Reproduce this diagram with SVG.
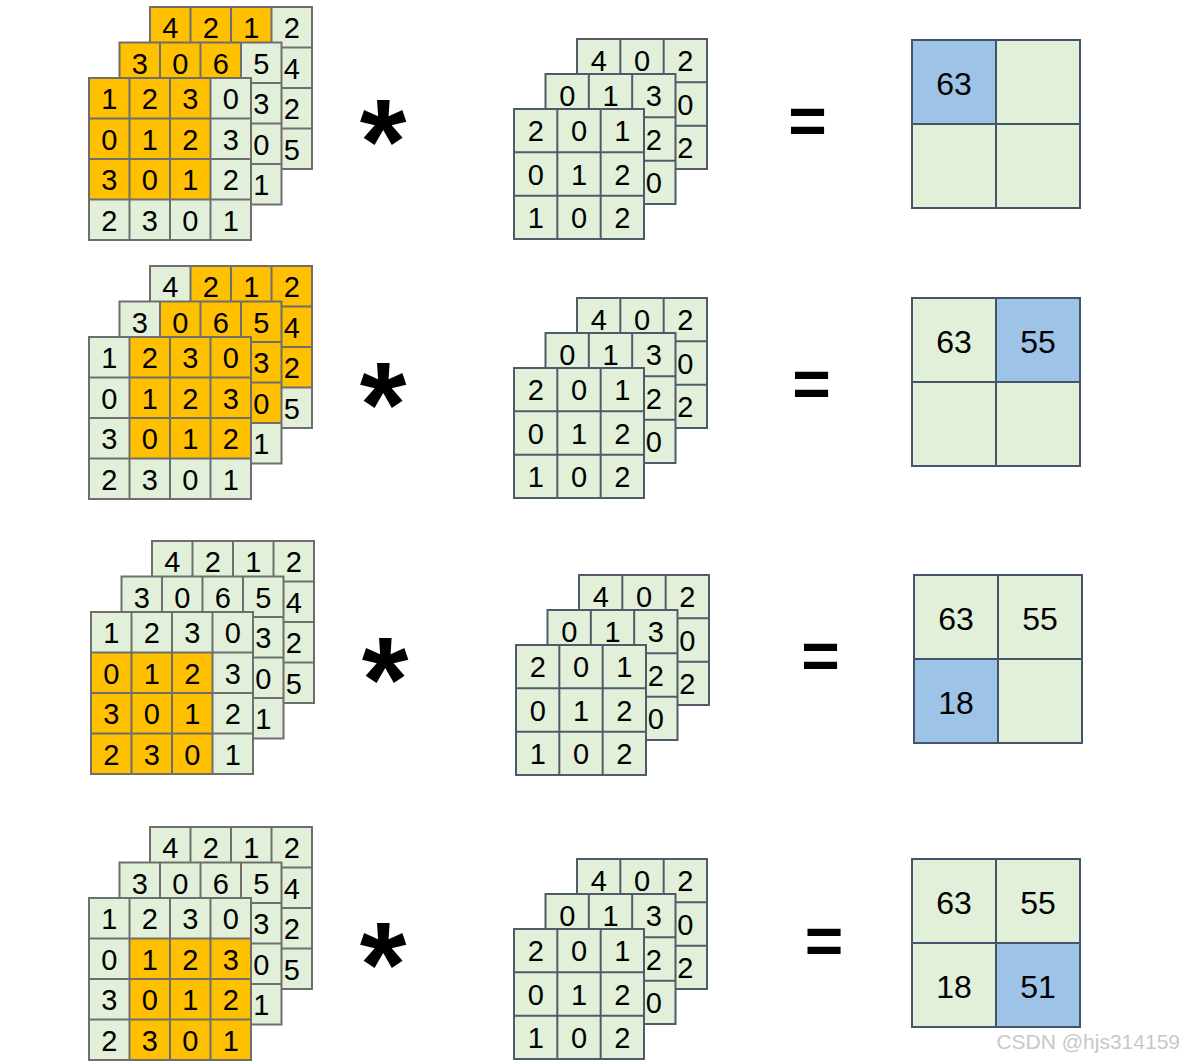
<svg xmlns="http://www.w3.org/2000/svg" xmlns:xlink="http://www.w3.org/1999/xlink" width="1184" height="1062" viewBox="0 0 1184 1062">
<style>
.g{fill:#E2F0D9}
.o{fill:#FFC000}
.b{fill:#9DC3E6}
.gi{fill:none;stroke:#6E6E6E;stroke-width:2}
.gk{fill:none;stroke:#4F5B6B;stroke-width:2}
.go{fill:none;stroke:#44546A;stroke-width:2}
text{font-family:"Liberation Sans",Arial,sans-serif;fill:#000;text-anchor:middle}
.n{font-size:29px}
.on{font-size:32px}
.op{font-weight:bold}
.wm{font-size:21px;fill:#C8C8C8;text-anchor:end}
</style>
<defs>
<path id="grid4" d="M0 0H162V162H0Z M40.5 0V162 M81 0V162 M121.5 0V162 M0 40.5H162 M0 81H162 M0 121.5H162"/>
<path id="grid3" d="M0 0H130V130H0Z M43.33 0V130 M86.67 0V130 M0 43.33H130 M0 86.67H130"/>
<path id="grid2" d="M0 0H168V168H0Z M84 0V168 M0 84H168"/>
</defs>

<!-- ROW 1 -->
<g id="input1">
<g transform="translate(150,7)"><rect class="g" width="162" height="162"/><rect class="o" width="121.5" height="121.5"/><use href="#grid4" class="gi"/>
<text class="n" x="20.25" y="31">4</text><text class="n" x="60.75" y="31">2</text><text class="n" x="101.25" y="31">1</text><text class="n" x="141.75" y="31">2</text><text class="n" x="141.75" y="71.5">4</text><text class="n" x="141.75" y="112">2</text><text class="n" x="141.75" y="152.5">5</text></g>
<g transform="translate(119.5,42.5)"><rect class="g" width="162" height="162"/><rect class="o" width="121.5" height="121.5"/><use href="#grid4" class="gi"/>
<text class="n" x="20.25" y="31">3</text><text class="n" x="60.75" y="31">0</text><text class="n" x="101.25" y="31">6</text><text class="n" x="141.75" y="31">5</text><text class="n" x="141.75" y="71.5">3</text><text class="n" x="141.75" y="112">0</text><text class="n" x="141.75" y="152.5">1</text></g>
<g transform="translate(89,78)"><rect class="g" width="162" height="162"/><rect class="o" width="121.5" height="121.5"/><use href="#grid4" class="gi"/>
<text class="n" x="20.25" y="31">1</text><text class="n" x="60.75" y="31">2</text><text class="n" x="101.25" y="31">3</text><text class="n" x="141.75" y="31">0</text>
<text class="n" x="20.25" y="71.5">0</text><text class="n" x="60.75" y="71.5">1</text><text class="n" x="101.25" y="71.5">2</text><text class="n" x="141.75" y="71.5">3</text>
<text class="n" x="20.25" y="112">3</text><text class="n" x="60.75" y="112">0</text><text class="n" x="101.25" y="112">1</text><text class="n" x="141.75" y="112">2</text>
<text class="n" x="20.25" y="152.5">2</text><text class="n" x="60.75" y="152.5">3</text><text class="n" x="101.25" y="152.5">0</text><text class="n" x="141.75" y="152.5">1</text></g>
</g>
<g id="kernel1">
<g transform="translate(577,39)"><rect class="g" width="130" height="130"/><use href="#grid3" class="gk"/>
<text class="n" x="21.7" y="32">4</text><text class="n" x="65" y="32">0</text><text class="n" x="108.3" y="32">2</text><text class="n" x="108.3" y="75.5">0</text><text class="n" x="108.3" y="119">2</text></g>
<g transform="translate(545.5,74)"><rect class="g" width="130" height="130"/><use href="#grid3" class="gk"/>
<text class="n" x="21.7" y="32">0</text><text class="n" x="65" y="32">1</text><text class="n" x="108.3" y="32">3</text><text class="n" x="108.3" y="75.5">2</text><text class="n" x="108.3" y="119">0</text></g>
<g transform="translate(514,109)"><rect class="g" width="130" height="130"/><use href="#grid3" class="gk"/>
<text class="n" x="21.7" y="32">2</text><text class="n" x="65" y="32">0</text><text class="n" x="108.3" y="32">1</text>
<text class="n" x="21.7" y="75.5">0</text><text class="n" x="65" y="75.5">1</text><text class="n" x="108.3" y="75.5">2</text>
<text class="n" x="21.7" y="119">1</text><text class="n" x="65" y="119">0</text><text class="n" x="108.3" y="119">2</text></g>
</g>
<g id="output1" transform="translate(912,40)"><rect class="g" width="168" height="168"/><rect class="b" width="84" height="84"/><use href="#grid2" class="go"/>
<text class="on" x="42" y="55">63</text></g>
<text class="op" x="383" y="183" font-size="120">*</text>
<text class="op" x="807.5" y="143.6" font-size="66">=</text>

<!-- ROW 2 -->
<g id="input2">
<g transform="translate(150,266)"><rect class="g" width="162" height="162"/><rect class="o" x="40.5" width="121.5" height="121.5"/><use href="#grid4" class="gi"/>
<text class="n" x="20.25" y="31">4</text><text class="n" x="60.75" y="31">2</text><text class="n" x="101.25" y="31">1</text><text class="n" x="141.75" y="31">2</text><text class="n" x="141.75" y="71.5">4</text><text class="n" x="141.75" y="112">2</text><text class="n" x="141.75" y="152.5">5</text></g>
<g transform="translate(119.5,301.5)"><rect class="g" width="162" height="162"/><rect class="o" x="40.5" width="121.5" height="121.5"/><use href="#grid4" class="gi"/>
<text class="n" x="20.25" y="31">3</text><text class="n" x="60.75" y="31">0</text><text class="n" x="101.25" y="31">6</text><text class="n" x="141.75" y="31">5</text><text class="n" x="141.75" y="71.5">3</text><text class="n" x="141.75" y="112">0</text><text class="n" x="141.75" y="152.5">1</text></g>
<g transform="translate(89,337)"><rect class="g" width="162" height="162"/><rect class="o" x="40.5" width="121.5" height="121.5"/><use href="#grid4" class="gi"/>
<text class="n" x="20.25" y="31">1</text><text class="n" x="60.75" y="31">2</text><text class="n" x="101.25" y="31">3</text><text class="n" x="141.75" y="31">0</text>
<text class="n" x="20.25" y="71.5">0</text><text class="n" x="60.75" y="71.5">1</text><text class="n" x="101.25" y="71.5">2</text><text class="n" x="141.75" y="71.5">3</text>
<text class="n" x="20.25" y="112">3</text><text class="n" x="60.75" y="112">0</text><text class="n" x="101.25" y="112">1</text><text class="n" x="141.75" y="112">2</text>
<text class="n" x="20.25" y="152.5">2</text><text class="n" x="60.75" y="152.5">3</text><text class="n" x="101.25" y="152.5">0</text><text class="n" x="141.75" y="152.5">1</text></g>
</g>
<g id="kernel2">
<g transform="translate(577,298)"><rect class="g" width="130" height="130"/><use href="#grid3" class="gk"/>
<text class="n" x="21.7" y="32">4</text><text class="n" x="65" y="32">0</text><text class="n" x="108.3" y="32">2</text><text class="n" x="108.3" y="75.5">0</text><text class="n" x="108.3" y="119">2</text></g>
<g transform="translate(545.5,333)"><rect class="g" width="130" height="130"/><use href="#grid3" class="gk"/>
<text class="n" x="21.7" y="32">0</text><text class="n" x="65" y="32">1</text><text class="n" x="108.3" y="32">3</text><text class="n" x="108.3" y="75.5">2</text><text class="n" x="108.3" y="119">0</text></g>
<g transform="translate(514,368)"><rect class="g" width="130" height="130"/><use href="#grid3" class="gk"/>
<text class="n" x="21.7" y="32">2</text><text class="n" x="65" y="32">0</text><text class="n" x="108.3" y="32">1</text>
<text class="n" x="21.7" y="75.5">0</text><text class="n" x="65" y="75.5">1</text><text class="n" x="108.3" y="75.5">2</text>
<text class="n" x="21.7" y="119">1</text><text class="n" x="65" y="119">0</text><text class="n" x="108.3" y="119">2</text></g>
</g>
<g id="output2" transform="translate(912,298)"><rect class="g" width="168" height="168"/><rect class="b" x="84" width="84" height="84"/><use href="#grid2" class="go"/>
<text class="on" x="42" y="55">63</text><text class="on" x="126" y="55">55</text></g>
<text class="op" x="383" y="446" font-size="120">*</text>
<text class="op" x="811.5" y="407" font-size="66">=</text>

<!-- ROW 3 -->
<g id="input3">
<g transform="translate(152,541)"><rect class="g" width="162" height="162"/><use href="#grid4" class="gi"/>
<text class="n" x="20.25" y="31">4</text><text class="n" x="60.75" y="31">2</text><text class="n" x="101.25" y="31">1</text><text class="n" x="141.75" y="31">2</text><text class="n" x="141.75" y="71.5">4</text><text class="n" x="141.75" y="112">2</text><text class="n" x="141.75" y="152.5">5</text></g>
<g transform="translate(121.5,576.5)"><rect class="g" width="162" height="162"/><use href="#grid4" class="gi"/>
<text class="n" x="20.25" y="31">3</text><text class="n" x="60.75" y="31">0</text><text class="n" x="101.25" y="31">6</text><text class="n" x="141.75" y="31">5</text><text class="n" x="141.75" y="71.5">3</text><text class="n" x="141.75" y="112">0</text><text class="n" x="141.75" y="152.5">1</text></g>
<g transform="translate(91,612)"><rect class="g" width="162" height="162"/><rect class="o" y="40.5" width="121.5" height="121.5"/><use href="#grid4" class="gi"/>
<text class="n" x="20.25" y="31">1</text><text class="n" x="60.75" y="31">2</text><text class="n" x="101.25" y="31">3</text><text class="n" x="141.75" y="31">0</text>
<text class="n" x="20.25" y="71.5">0</text><text class="n" x="60.75" y="71.5">1</text><text class="n" x="101.25" y="71.5">2</text><text class="n" x="141.75" y="71.5">3</text>
<text class="n" x="20.25" y="112">3</text><text class="n" x="60.75" y="112">0</text><text class="n" x="101.25" y="112">1</text><text class="n" x="141.75" y="112">2</text>
<text class="n" x="20.25" y="152.5">2</text><text class="n" x="60.75" y="152.5">3</text><text class="n" x="101.25" y="152.5">0</text><text class="n" x="141.75" y="152.5">1</text></g>
</g>
<g id="kernel3">
<g transform="translate(579,575)"><rect class="g" width="130" height="130"/><use href="#grid3" class="gk"/>
<text class="n" x="21.7" y="32">4</text><text class="n" x="65" y="32">0</text><text class="n" x="108.3" y="32">2</text><text class="n" x="108.3" y="75.5">0</text><text class="n" x="108.3" y="119">2</text></g>
<g transform="translate(547.5,610)"><rect class="g" width="130" height="130"/><use href="#grid3" class="gk"/>
<text class="n" x="21.7" y="32">0</text><text class="n" x="65" y="32">1</text><text class="n" x="108.3" y="32">3</text><text class="n" x="108.3" y="75.5">2</text><text class="n" x="108.3" y="119">0</text></g>
<g transform="translate(516,645)"><rect class="g" width="130" height="130"/><use href="#grid3" class="gk"/>
<text class="n" x="21.7" y="32">2</text><text class="n" x="65" y="32">0</text><text class="n" x="108.3" y="32">1</text>
<text class="n" x="21.7" y="75.5">0</text><text class="n" x="65" y="75.5">1</text><text class="n" x="108.3" y="75.5">2</text>
<text class="n" x="21.7" y="119">1</text><text class="n" x="65" y="119">0</text><text class="n" x="108.3" y="119">2</text></g>
</g>
<g id="output3" transform="translate(914,575)"><rect class="g" width="168" height="168"/><rect class="b" y="84" width="84" height="84"/><use href="#grid2" class="go"/>
<text class="on" x="42" y="55">63</text><text class="on" x="126" y="55">55</text><text class="on" x="42" y="139">18</text></g>
<text class="op" x="385" y="721" font-size="120">*</text>
<text class="op" x="820.5" y="679" font-size="66">=</text>

<!-- ROW 4 -->
<g id="input4">
<g transform="translate(150,827)"><rect class="g" width="162" height="162"/><use href="#grid4" class="gi"/>
<text class="n" x="20.25" y="31">4</text><text class="n" x="60.75" y="31">2</text><text class="n" x="101.25" y="31">1</text><text class="n" x="141.75" y="31">2</text><text class="n" x="141.75" y="71.5">4</text><text class="n" x="141.75" y="112">2</text><text class="n" x="141.75" y="152.5">5</text></g>
<g transform="translate(119.5,862.5)"><rect class="g" width="162" height="162"/><use href="#grid4" class="gi"/>
<text class="n" x="20.25" y="31">3</text><text class="n" x="60.75" y="31">0</text><text class="n" x="101.25" y="31">6</text><text class="n" x="141.75" y="31">5</text><text class="n" x="141.75" y="71.5">3</text><text class="n" x="141.75" y="112">0</text><text class="n" x="141.75" y="152.5">1</text></g>
<g transform="translate(89,898)"><rect class="g" width="162" height="162"/><rect class="o" x="40.5" y="40.5" width="121.5" height="121.5"/><use href="#grid4" class="gi"/>
<text class="n" x="20.25" y="31">1</text><text class="n" x="60.75" y="31">2</text><text class="n" x="101.25" y="31">3</text><text class="n" x="141.75" y="31">0</text>
<text class="n" x="20.25" y="71.5">0</text><text class="n" x="60.75" y="71.5">1</text><text class="n" x="101.25" y="71.5">2</text><text class="n" x="141.75" y="71.5">3</text>
<text class="n" x="20.25" y="112">3</text><text class="n" x="60.75" y="112">0</text><text class="n" x="101.25" y="112">1</text><text class="n" x="141.75" y="112">2</text>
<text class="n" x="20.25" y="152.5">2</text><text class="n" x="60.75" y="152.5">3</text><text class="n" x="101.25" y="152.5">0</text><text class="n" x="141.75" y="152.5">1</text></g>
</g>
<g id="kernel4">
<g transform="translate(577,859)"><rect class="g" width="130" height="130"/><use href="#grid3" class="gk"/>
<text class="n" x="21.7" y="32">4</text><text class="n" x="65" y="32">0</text><text class="n" x="108.3" y="32">2</text><text class="n" x="108.3" y="75.5">0</text><text class="n" x="108.3" y="119">2</text></g>
<g transform="translate(545.5,894)"><rect class="g" width="130" height="130"/><use href="#grid3" class="gk"/>
<text class="n" x="21.7" y="32">0</text><text class="n" x="65" y="32">1</text><text class="n" x="108.3" y="32">3</text><text class="n" x="108.3" y="75.5">2</text><text class="n" x="108.3" y="119">0</text></g>
<g transform="translate(514,929)"><rect class="g" width="130" height="130"/><use href="#grid3" class="gk"/>
<text class="n" x="21.7" y="32">2</text><text class="n" x="65" y="32">0</text><text class="n" x="108.3" y="32">1</text>
<text class="n" x="21.7" y="75.5">0</text><text class="n" x="65" y="75.5">1</text><text class="n" x="108.3" y="75.5">2</text>
<text class="n" x="21.7" y="119">1</text><text class="n" x="65" y="119">0</text><text class="n" x="108.3" y="119">2</text></g>
</g>
<g id="output4" transform="translate(912,859)"><rect class="g" width="168" height="168"/><rect class="b" x="84" y="84" width="84" height="84"/><use href="#grid2" class="go"/>
<text class="on" x="42" y="55">63</text><text class="on" x="126" y="55">55</text><text class="on" x="42" y="139">18</text><text class="on" x="126" y="139">51</text></g>
<text class="op" x="383" y="1006" font-size="120">*</text>
<text class="op" x="824" y="963.5" font-size="66">=</text>

<text class="wm" x="1180" y="1049">CSDN @hjs314159</text>
</svg>
